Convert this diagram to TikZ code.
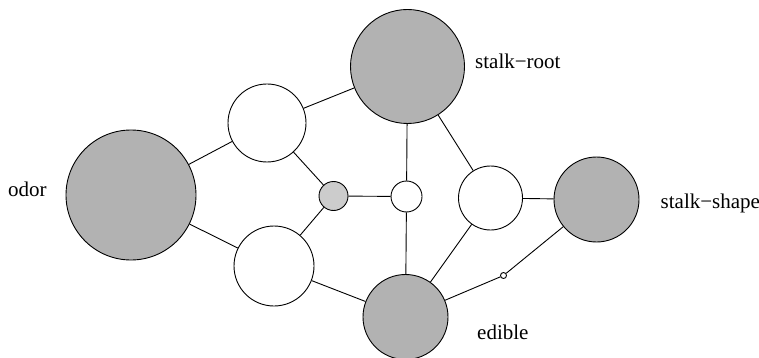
\documentclass[tikz,border=0pt]{standalone}
\usepackage{fontspec}
\setmainfont{Liberation Serif}
\begin{document}
\begin{tikzpicture}[x=1pt,y=-1pt,
  vnode/.style={circle,draw=black,line width=0.9pt,inner sep=0pt},
  obs/.style={vnode,fill=black!30},
  hid/.style={vnode,fill=white},
  mid/.style={vnode,fill=black!20},
  lbl/.style={inner sep=0pt,anchor=base west,font=\fontsize{21}{24}\selectfont},
  edge/.style={draw=black,line width=0.9pt}]
\useasboundingbox (0,0) rectangle (759,358);
\node[obs,minimum size=130pt] (odor) at (131,195) {};
\node[obs,minimum size=114pt] (root) at (407.5,66.5) {};
\node[hid,minimum size=78pt] (h1) at (267,123) {};
\node[hid,minimum size=80pt] (h2) at (274,266) {};
\node[mid,minimum size=29pt] (g) at (333.5,196) {};
\node[hid,minimum size=31pt] (w) at (406.5,196.5) {};
\node[hid,minimum size=64pt] (h3) at (490.5,198) {};
\node[obs,minimum size=85pt] (shape) at (596.5,199.5) {};
\node[obs,minimum size=85pt] (edible) at (405.5,317) {};
\node[hid,minimum size=6pt] (t) at (503.5,275.5) {};
\node[lbl] (lodor) at (8,196) {odor};
\node[lbl] (lroot) at (475,68.5) {stalk−root};
\node[lbl] (lshape) at (660.5,208.5) {stalk−shape};
\node[lbl] (ledible) at (477,339) {edible};
\path[edge] (odor) -- (h1);
\path[edge] (odor) -- (h2);
\path[edge] (h1) -- (root);
\path[edge] (h1) -- (g);
\path[edge] (h2) -- (g);
\path[edge] (h2) -- (edible);
\path[edge] (g) -- (w);
\path[edge] (w) -- (root);
\path[edge] (w) -- (edible);
\path[edge] (root) -- (h3);
\path[edge] (h3) -- (shape);
\path[edge] (h3) -- (edible);
\path[edge] (edible) -- (t);
\path[edge] (t) -- (shape);
\end{tikzpicture}
\end{document}
